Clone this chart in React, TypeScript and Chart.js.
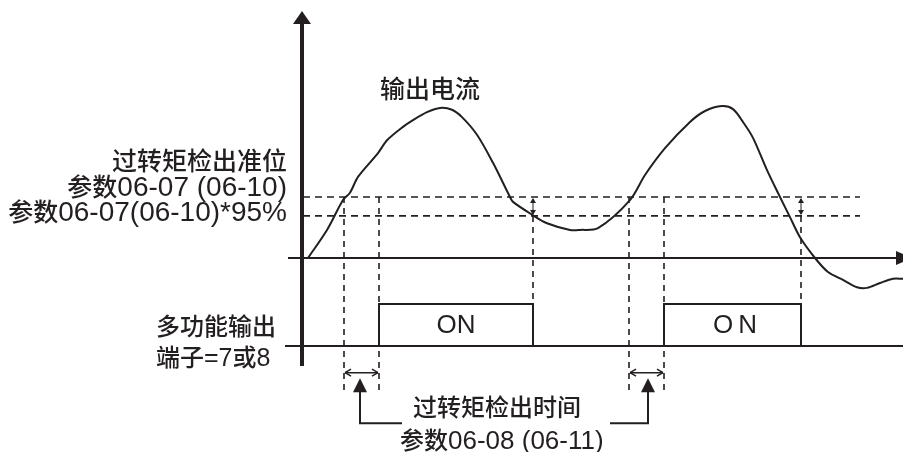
import React, { useEffect, useRef } from "react";
import { Chart, registerables } from "chart.js";

Chart.register(...registerables);

const INK = "#231f20";

// Output current curve (time units, current units where detection level = 100)
const currentT = [0.6, 2.5, 4.1, 4.8, 5.6, 7.6, 8.5, 10.1, 11.1, 12.5, 13.8, 15.0, 16.0, 17.5, 19.1, 20.8, 21.1, 23.1, 24.5, 26.8, 27.8, 29.6, 32.8, 34.3, 36.3, 38.8, 40.3, 42.0, 43.1, 44.1, 45.1, 46.5, 47.8, 48.8, 49.8, 51.3, 52.6, 54.1, 55.5, 56.5, 57.8, 59.1, 60.1];
const currentI = [0, 46, 95, 107, 133, 172, 193, 215, 226, 239, 246, 243, 231, 202, 156, 100, 92, 70, 57, 46, 46, 49, 95, 136, 180, 223, 241, 249, 244, 223, 197, 144, 100, 67, 34, 0, -23, -36, -48, -49, -41, -34, -34];

// Multi-function output (0 = OFF, 1 = ON)
const outputT = [-1.7, 7.7, 7.7, 23.1, 23.1, 36.2, 36.2, 49.9, 49.9, 60.1];
const outputState = [0, 0, 1, 1, 0, 0, 1, 1, 0, 0];
const outputBaseline = [-1.7, 60.1];

// Detection levels: 06-07 level and 95% release level
const levelValues = [100, 69];
const levelSpan = [0.1, 55.8];

// Vertical dashed markers
const markerT = [4.2, 7.7, 23.1, 32.7, 36.2, 49.9];
const markerTop = [100, 100, 69, 100, 100, 69];
const markerBottom = [-220, -220, -75, -220, -220, -75];

// Detection-time intervals
const timerPairs = [[4.2, 7.7], [32.7, 36.2]];

const CJK = '"Noto Sans CJK SC"';
const LATIN = '"Liberation Sans", Arial';

function drawMixed(ctx: CanvasRenderingContext2D, text: string, x: number, y: number, align: string, cjkSize: number, latinSize: number) {
  const re = /[\u2E80-\u9FFF\uFF00-\uFFEF]+|[^\u2E80-\u9FFF\uFF00-\uFFEF]+/g;
  const runs: { s: string; font: string; w: number }[] = [];
  let m;
  while ((m = re.exec(text)) !== null) {
    const s = m[0];
    const isCjk = /[\u2E80-\u9FFF\uFF00-\uFFEF]/.test(s);
    const font = isCjk ? `500 ${cjkSize}px ${CJK}` : `${latinSize}px ${LATIN}`;
    ctx.font = font;
    runs.push({ s, font, w: ctx.measureText(s).width });
  }
  const total = runs.reduce((a, r) => a + r.w, 0);
  let cx = align === "right" ? x - total : align === "center" ? x - total / 2 : x;
  ctx.textAlign = "left";
  ctx.textBaseline = "alphabetic";
  for (const r of runs) {
    ctx.font = r.font;
    ctx.fillText(r.s, cx, y);
    cx += r.w;
  }
}

function seg(ctx: CanvasRenderingContext2D, x1: number, y1: number, x2: number, y2: number) {
  ctx.beginPath();
  ctx.moveTo(x1, y1);
  ctx.lineTo(x2, y2);
  ctx.stroke();
}

function tri(ctx: CanvasRenderingContext2D, pts: number[][]) {
  ctx.beginPath();
  ctx.moveTo(pts[0][0], pts[0][1]);
  ctx.lineTo(pts[1][0], pts[1][1]);
  ctx.lineTo(pts[2][0], pts[2][1]);
  ctx.closePath();
  ctx.fill();
}

const overlay = {
  id: "overlay",
  afterDatasetsDraw(chart: any) {
    const ctx: CanvasRenderingContext2D = chart.ctx;
    const X = (v: number) => chart.scales.x.getPixelForValue(v);
    const Y = (v: number) => chart.scales.y.getPixelForValue(v);
    const Y2 = (v: number) => chart.scales.y2.getPixelForValue(v);
    ctx.save();
    ctx.strokeStyle = INK;
    ctx.fillStyle = INK;
    ctx.setLineDash([]);

    // vertical axis
    const x0 = X(0);
    ctx.lineWidth = 4;
    seg(ctx, x0, 22, x0, 366);
    tri(ctx, [[x0, 11], [x0 - 9, 24], [x0 + 9, 24]]);

    // horizontal axis
    const y0 = Y(0);
    ctx.lineWidth = 2;
    seg(ctx, 288, y0, 898, y0);
    tri(ctx, [[912, y0], [896, y0 - 7], [896, y0 + 7]]);

    // small level-difference arrows
    ctx.lineWidth = 1;
    [2, 5].forEach((i) => {
      const mx = X(markerT[i]);
      const a = Y(levelValues[0]);
      const b = Y(levelValues[1]);
      seg(ctx, mx, a + 2, mx, b - 2);
      tri(ctx, [[mx, a + 1], [mx - 3, a + 6], [mx + 3, a + 6]]);
      tri(ctx, [[mx, b - 1], [mx - 3, b - 6], [mx + 3, b - 6]]);
    });

    // detection-time double arrows
    const ty = Y(-188);
    ctx.lineWidth = 1.5;
    timerPairs.forEach(([a, b]) => {
      const xa = X(a) + 1;
      const xb = X(b) - 1;
      seg(ctx, xa, ty, xb, ty);
      seg(ctx, xa, ty, xa + 6, ty - 3.5);
      seg(ctx, xa, ty, xa + 6, ty + 3.5);
      seg(ctx, xb, ty, xb - 6, ty - 3.5);
      seg(ctx, xb, ty, xb - 6, ty + 3.5);
    });

    // callout arrows
    const tipY = Y(-197);
    const lowY = Y(-271);
    ctx.lineWidth = 2;
    const lx = X(5.8);
    tri(ctx, [[lx, tipY], [lx - 7, tipY + 14], [lx + 7, tipY + 14]]);
    ctx.beginPath();
    ctx.moveTo(lx, tipY + 12);
    ctx.lineTo(lx, lowY);
    ctx.lineTo(X(10.0), lowY);
    ctx.stroke();
    const rx = X(34.6);
    tri(ctx, [[rx, tipY], [rx - 7, tipY + 14], [rx + 7, tipY + 14]]);
    ctx.beginPath();
    ctx.moveTo(rx, tipY + 12);
    ctx.lineTo(rx, lowY);
    ctx.lineTo(X(30.8), lowY);
    ctx.stroke();

    // ON labels
    ctx.textAlign = "center";
    ctx.textBaseline = "middle";
    ctx.font = `26px ${LATIN}`;
    ctx.fillText("ON", X((outputT[1] + outputT[3]) / 2), Y2(0.5) + 1);
    (ctx as any).letterSpacing = "5px";
    ctx.fillText("ON", X((outputT[5] + outputT[7]) / 2) + 5, Y2(0.5) + 1);
    (ctx as any).letterSpacing = "0px";

    // texts
    drawMixed(ctx, "输出电流", 380, 98, "left", 25, 27);
    drawMixed(ctx, "过转矩检出准位", 287, 170, "right", 25, 28);
    drawMixed(ctx, "参数06-07 (06-10)", 287, 196, "right", 25, 28);
    drawMixed(ctx, "参数06-07(06-10)*95%", 287, 221, "right", 25, 28);
    drawMixed(ctx, "多功能输出", 156, 335, "left", 24, 25);
    drawMixed(ctx, "端子=7或8", 156, 366, "left", 24, 25);
    drawMixed(ctx, "过转矩检出时间", 413, 416, "left", 24, 26);
    drawMixed(ctx, "参数06-08 (06-11)", 400, 449, "left", 24, 26);

    ctx.restore();
  },
};

export default function App() {
  const ref = useRef<HTMLCanvasElement | null>(null);
  useEffect(() => {
    const canvas = ref.current;
    if (!canvas) return;
    const dashStyle = { borderColor: INK, borderWidth: 1.6, borderDash: [7, 5], pointRadius: 0, tension: 0, fill: false };
    const datasets: any[] = [];
    levelValues.forEach((v) => {
      datasets.push({
        ...dashStyle,
        data: levelSpan.map((t) => ({ x: t, y: v })),
        yAxisID: "y",
      });
    });
    markerT.forEach((t, i) => {
      datasets.push({
        ...dashStyle,
        borderDash: [6, 5],
        data: [{ x: t, y: markerTop[i] }, { x: t, y: markerBottom[i] }],
        yAxisID: "y",
      });
    });
    datasets.push({
      data: currentT.map((t, i) => ({ x: t, y: currentI[i] })),
      borderColor: INK,
      borderWidth: 2,
      pointRadius: 0,
      tension: 0.3,
      fill: false,
      yAxisID: "y",
    });
    datasets.push({
      data: outputBaseline.map((t) => ({ x: t, y: 0 })),
      borderColor: INK,
      borderWidth: 2,
      pointRadius: 0,
      tension: 0,
      fill: false,
      yAxisID: "y2",
    });
    datasets.push({
      data: outputT.map((t, i) => ({ x: t, y: outputState[i] })),
      borderColor: INK,
      borderWidth: 2,
      pointRadius: 0,
      tension: 0,
      fill: false,
      yAxisID: "y2",
    });

    const chart = new Chart(canvas, {
      type: "line",
      data: { datasets },
      options: {
        animation: false,
        responsive: false,
        devicePixelRatio: 1,
        layout: { padding: 0 },
        plugins: { legend: { display: false }, tooltip: { enabled: false } },
        events: [],
        scales: {
          x: { type: "linear", min: -30.2, max: 60.1, display: false },
          y: { type: "linear", min: -318.03, max: 422.95, display: false },
          y2: { type: "linear", min: -2.5238, max: 8.2381, display: false },
        },
      },
      plugins: [overlay],
    } as any);
    return () => chart.destroy();
  }, []);

  return (
    <div style={{ position: "absolute", left: 0, top: 0, width: 903, height: 452, background: "#fff" }}>
      <canvas ref={ref} width={903} height={452} style={{ display: "block", width: 903, height: 452 }} />
    </div>
  );
}
